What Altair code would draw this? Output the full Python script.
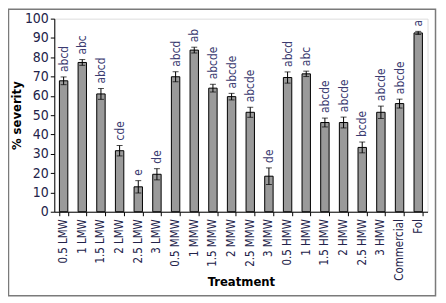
import altair as alt
import pandas as pd

treatments = ["0.5 LMW", "1 LMW", "1.5 LMW", "2 LMW", "2.5 LMW", "3 LMW",
              "0.5 MMW", "1 MMW", "1.5 MMW", "2 MMW", "2.5 MMW", "3 MMW",
              "0.5 HMW", "1 HMW", "1.5 HMW", "2 HMW", "2.5 HMW", "3 HMW",
              "Commercial", "Fol"]
severity = [67.8, 77.3, 61.0, 31.6, 12.9, 19.4,
            69.9, 83.7, 64.0, 59.6, 51.5, 18.4,
            69.5, 71.4, 46.2, 46.2, 33.3, 51.5,
            56.0, 92.6]
errors = [2.0, 1.5, 2.8, 2.7, 3.2, 2.9,
          2.6, 1.5, 2.0, 1.7, 2.6, 4.3,
          2.9, 1.4, 2.3, 2.8, 2.8, 3.2,
          2.3, 0.8]
letters = ["abcd", "abc", "abcd", "cde", "e", "de",
           "abcd", "ab", "abcde", "abcde", "abcde", "de",
           "abcd", "abc", "abcde", "abcde", "bcde", "abcde",
           "abcde", "a"]
y_ticks = [0, 10, 20, 30, 40, 50, 60, 70, 80, 90, 100]

df = pd.DataFrame({"t": treatments, "v": severity, "e": errors, "l": letters})
df["lo"] = df["v"] - df["e"]
df["hi"] = df["v"] + df["e"]

NARROW = "Liberation Sans Narrow, Arial Narrow, DejaVu Sans Condensed, sans-serif"
LABEL_COLOR = "#23234a"

x_axis = alt.Axis(title="Treatment", labelAngle=270, labelFont=NARROW,
                  labelFontSize=11.5, labelColor=LABEL_COLOR, labelPadding=3,
                  labelOverlap=False,
                  tickBand="extent", tickSize=4, tickColor="black",
                  domainColor="black", titleFont=NARROW, titleFontSize=13,
                  titleFontWeight="bold", titleColor="black",
                  titleX=187.5, titleY=70, titleAlign="center",
                  titleBaseline="middle")
y_axis = alt.Axis(title="% severity", values=y_ticks,
                  grid=False, labelFont=NARROW, labelFontSize=14,
                  labelOverlap=False,
                  labelColor=LABEL_COLOR, labelPadding=2, tickSize=4,
                  tickColor="black", domainColor="black",
                  titleFont=NARROW, titleFontSize=13, titleFontWeight="bold",
                  titleColor="black", titleAngle=270, titleX=-38, titleY=97,
                  titleAlign="center", titleBaseline="middle")
x_scale = alt.Scale(paddingInner=0.55, paddingOuter=0.275)
y_scale = alt.Scale(domain=[0, 100], nice=False)


def X():
    return alt.X("t:N", sort=treatments, scale=x_scale, axis=x_axis)


def Y(field):
    return alt.Y(field, type="quantitative", scale=y_scale, axis=y_axis)


base = alt.Chart(df)
bars = base.mark_bar(color="#9a9a9a", stroke="black", strokeWidth=1).encode(
    x=X(), y=Y("v"))
rule = base.mark_rule(color="black", strokeWidth=1).encode(
    x=X(), y=Y("lo"), y2="hi:Q")
cap_lo = base.mark_tick(color="black", thickness=1, size=6, orient="horizontal").encode(
    x=X(), y=Y("lo"))
cap_hi = base.mark_tick(color="black", thickness=1, size=6, orient="horizontal").encode(
    x=X(), y=Y("hi"))
text = base.mark_text(angle=270, align="left", baseline="middle", dx=5,
                      font=NARROW, fontSize=12, color="#3a3a70").encode(
    x=X(), y=Y("hi"), text="l:N")
frame = alt.Chart(alt.Data(values=[{}])).mark_rect(
    fillOpacity=0, stroke="#7a7a7a", strokeWidth=1.5).encode(
    x=alt.value(-46), x2=alt.value(383), y=alt.value(-9.5), y2=alt.value(278.5))

chart = alt.layer(bars, rule, cap_lo, cap_hi, text, frame).properties(
    width=375, height=194,
    autosize=alt.AutoSizeParams(type="none"),
    padding={"left": 46.5, "top": 10, "right": 10.5, "bottom": 87},
).configure_view(stroke=None).configure(background="white")

chart.save("out.html", embed_options={"renderer": "svg", "actions": False})
